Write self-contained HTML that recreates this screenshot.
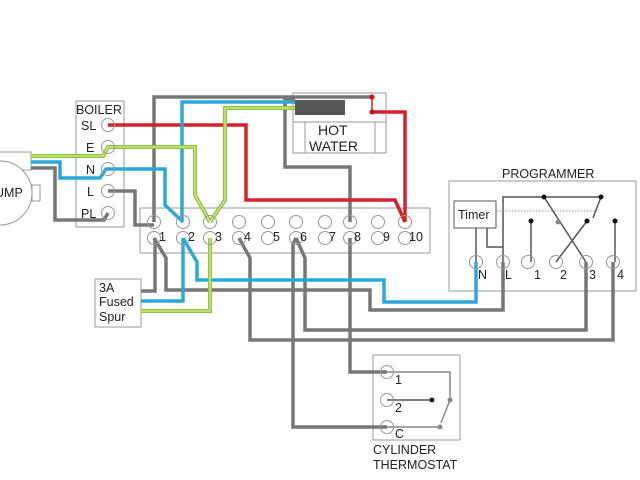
<!DOCTYPE html>
<html><head><style>body{margin:0;background:#fff}svg{display:block}text{font-family:"Liberation Sans",sans-serif;fill:#222}</style></head><body>
<svg width="640" height="480" viewBox="0 0 640 480" xmlns="http://www.w3.org/2000/svg">
<g fill="none" stroke="#999" stroke-width="1">
<rect x="76" y="101" width="48" height="126" fill="#fff"/>
<rect x="140" y="208" width="290" height="45" fill="#fff"/>
<rect x="449" y="181" width="187" height="110"/>
<rect x="95" y="279" width="46" height="48"/>
<rect x="373" y="355" width="87" height="85"/>
<rect x="293" y="93" width="93" height="29"/>
<rect x="293" y="122" width="93" height="31"/>
<rect x="305" y="122" width="70" height="31" fill="#fff"/>
<rect x="-10" y="152" width="41" height="18" fill="#fff"/>
<circle cx="0" cy="193" r="32" fill="#fff"/>
<rect x="32" y="185" width="8" height="16"/>
</g>
<rect x="295" y="100" width="50" height="15" fill="#555"/>
<g fill="none" stroke-linejoin="miter">
<g stroke="#777" stroke-width="3.5">
<path d="M154 222 V97 H372"/>
<path d="M295 100 H285 V167 H350 V222"/>
<path d="M350 238 V372 H387"/>
<path d="M108 191 H135 V225 H154"/>
<path d="M31 168 H55 V220 H104 L108 213"/>
<path d="M141 291 H155 V238"/>
<path d="M154 238 L166 258 V290 H370 V310 H503 V262"/>
<path d="M239 238 L250 258 V340 H613 V262"/>
<path d="M296 238 L293 244 V427 H387"/>
<path d="M296 238 L305 258 V330 H586 V262"/>
</g>
<g stroke="#d8202a" stroke-width="3.5">
<path d="M108 125 H246 V200 H395 L405 222"/>
<path d="M372 112 H405 V222"/>
<path d="M372 97 V112" stroke-width="1.5"/>
</g>
<g stroke="#2aa8d8" stroke-width="3.5">
<path d="M295 102 H182 V222"/>
<path d="M31 162 H60 V178 H100 L106 169 H165 V205 L183 222"/>
<path d="M183 238 V301 H141"/>
<path d="M183 238 L197 262 V280 H384 V302 H476 V262"/>
</g>
<g stroke="#8cc63f" stroke-width="4">
<path d="M295 108 H225 V200 L210 222"/>
<path d="M31 156 H103 L108 147 H195 V195 L210 222"/>
<path d="M210 238 V311 H141"/>
</g>
<g stroke="#f4f0a0" stroke-width="1">
<path d="M295 108 H225 V200 L210 222"/>
<path d="M31 156 H103 L108 147 H195 V195 L210 222"/>
<path d="M210 238 V311 H141"/>
</g>
<g stroke="#555" stroke-width="1.5">
<path d="M476 228 V262"/>
<path d="M487 228 V247 H503"/>
<path d="M503 262 V197 H601"/>
<path d="M544 197 L586 262"/>
<path d="M601 197 L593 218"/>
<path d="M587 221 L556 262"/>
<path d="M531 221 V262"/>
<path d="M615 221 V262"/>
<path d="M497 211 H597" stroke-dasharray="1.5 1.5" stroke="#999" stroke-width="1"/>
<path d="M387 372 H450 V400 L441 423" stroke="#888"/>
<path d="M387 400 H432"/>
<path d="M387 427 H440" stroke="#888"/>
</g>
</g>
<g fill="#111"><circle cx="544" cy="197" r="2.5"/><circle cx="601" cy="197" r="2.5"/><circle cx="587" cy="221" r="2.5"/><circle cx="531" cy="221" r="2.5"/><circle cx="615" cy="221" r="2.5"/><circle cx="432" cy="400" r="2.5"/></g>
<g fill="#888"><circle cx="558" cy="222" r="2.5"/><circle cx="450" cy="400" r="2.5"/><circle cx="440" cy="427" r="2.5"/></g>
<g fill="#c8101a"><circle cx="372" cy="97" r="2.5"/><circle cx="372" cy="112" r="2.5"/></g>
<rect x="454" y="201" width="42" height="27" fill="#fff" stroke="#555"/>
<g fill="none" stroke="#999" stroke-width="1">
<circle cx="108" cy="125" r="6.5"/><circle cx="108" cy="147" r="6.5"/><circle cx="108" cy="169" r="6.5"/><circle cx="108" cy="191" r="6.5"/><circle cx="108" cy="213" r="6.5"/>
<circle cx="154" cy="222" r="6.5"/><circle cx="154" cy="238" r="6.5"/>
<circle cx="183" cy="222" r="6.5"/><circle cx="183" cy="238" r="6.5"/>
<circle cx="210" cy="222" r="6.5"/><circle cx="210" cy="238" r="6.5"/>
<circle cx="239" cy="222" r="6.5"/><circle cx="239" cy="238" r="6.5"/>
<circle cx="268" cy="222" r="6.5"/><circle cx="268" cy="238" r="6.5"/>
<circle cx="296" cy="222" r="6.5"/><circle cx="296" cy="238" r="6.5"/>
<circle cx="325" cy="222" r="6.5"/><circle cx="325" cy="238" r="6.5"/>
<circle cx="350" cy="222" r="6.5"/><circle cx="350" cy="238" r="6.5"/>
<circle cx="378" cy="222" r="6.5"/><circle cx="378" cy="238" r="6.5"/>
<circle cx="405" cy="222" r="6.5"/><circle cx="405" cy="238" r="6.5"/>
<circle cx="476" cy="262" r="6.5"/><circle cx="503" cy="262" r="6.5"/><circle cx="528" cy="262" r="6.5"/><circle cx="556" cy="262" r="6.5"/><circle cx="586" cy="262" r="6.5"/><circle cx="613" cy="262" r="6.5"/>
<circle cx="387" cy="372" r="6.5"/><circle cx="387" cy="400" r="6.5"/><circle cx="387" cy="427" r="6.5"/>
</g>
<g font-size="12.5">
<text x="76" y="114">BOILER</text>
<text x="81" y="130">SL</text><text x="86" y="152">E</text><text x="86" y="174">N</text><text x="87" y="196">L</text><text x="81" y="218">PL</text>
<text x="-5" y="197">UMP</text>
<text x="159" y="241">1</text><text x="188" y="241">2</text><text x="215" y="241">3</text><text x="244" y="241">4</text><text x="273" y="241">5</text><text x="300" y="241">6</text><text x="329" y="241">7</text><text x="354" y="241">8</text><text x="383" y="241">9</text><text x="409" y="241">10</text>
<text x="318" y="135" font-size="14">HOT</text><text x="309" y="151" font-size="14">WATER</text>
<text x="502" y="178">PROGRAMMER</text>
<text x="458" y="219">Timer</text>
<text x="478" y="279">N</text><text x="505" y="279">L</text><text x="534" y="279">1</text><text x="560" y="279">2</text><text x="589" y="279">3</text><text x="617" y="279">4</text>
<text x="99" y="292">3A</text><text x="99" y="306">Fused</text><text x="99" y="321">Spur</text>
<text x="395" y="384">1</text><text x="395" y="412">2</text><text x="395" y="438">C</text>
<text x="373" y="454">CYLINDER</text><text x="373" y="469">THERMOSTAT</text>
</g>
</svg>
</body></html>
